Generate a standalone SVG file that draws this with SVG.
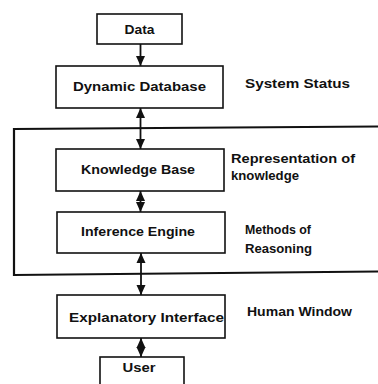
<svg xmlns="http://www.w3.org/2000/svg" width="378" height="384" viewBox="0 0 378 384">
<style>
.box{fill:#fff;stroke:#111;stroke-width:1.6}
.t{font-family:"Liberation Sans",Arial,sans-serif;font-size:12px;font-weight:bold;fill:#111}
.c{text-anchor:middle}
.conn{stroke:#111;stroke-width:1.8;fill:none}
.frame{stroke:#111;stroke-width:2.2;fill:none}
</style>
<defs>
<marker id="ah" markerUnits="userSpaceOnUse" markerWidth="10" markerHeight="10" refX="10" refY="5" orient="auto-start-reverse" viewBox="0 0 10 10">
<path d="M0,0.5 L10,5 L0,9.5 z" fill="#111"/>
</marker>
</defs>
<path class="frame" d="M378,126.5 L14,129 L14,275 L378,271.5"/>
<g id="connectors">
<line class="conn" x1="140.5" y1="44" x2="140.5" y2="66" marker-end="url(#ah)"/>
<line class="conn" x1="140.5" y1="108" x2="140.5" y2="149" marker-start="url(#ah)" marker-end="url(#ah)"/>
<line class="conn" x1="140.5" y1="191" x2="140.5" y2="212" marker-start="url(#ah)" marker-end="url(#ah)"/>
<line class="conn" x1="141" y1="253" x2="141" y2="295" marker-start="url(#ah)" marker-end="url(#ah)"/>
<line class="conn" x1="141" y1="338" x2="141" y2="357" marker-start="url(#ah)" marker-end="url(#ah)"/>
</g>
<g id="data">
<rect class="box" x="97" y="14" width="85" height="30"/>
<text class="t c" x="139.5" y="34" textLength="30" lengthAdjust="spacingAndGlyphs">Data</text>
</g>
<g id="dynamic-database">
<rect class="box" x="56" y="66" width="167" height="42"/>
<text class="t c" x="139.5" y="91" textLength="133" lengthAdjust="spacingAndGlyphs">Dynamic Database</text>
</g>
<g id="knowledge-base">
<rect class="box" x="56" y="149" width="168" height="42"/>
<text class="t c" x="138" y="174" textLength="114" lengthAdjust="spacingAndGlyphs">Knowledge Base</text>
</g>
<g id="inference-engine">
<rect class="box" x="57" y="212" width="168" height="41"/>
<text class="t c" x="138" y="236" textLength="114" lengthAdjust="spacingAndGlyphs">Inference Engine</text>
</g>
<g id="explanatory-interface">
<rect class="box" x="57" y="295" width="168" height="43"/>
<text class="t" x="69" y="322" textLength="155" lengthAdjust="spacingAndGlyphs">Explanatory  Interface</text>
</g>
<g id="user">
<rect class="box" x="100" y="357" width="84" height="40"/>
<text class="t c" x="139" y="372" textLength="33" lengthAdjust="spacingAndGlyphs">User</text>
</g>
<g id="labels">
<text class="t" x="245" y="88" textLength="105" lengthAdjust="spacingAndGlyphs">System  Status</text>
<text class="t" x="231" y="163" textLength="124" lengthAdjust="spacingAndGlyphs">Representation of</text>
<text class="t" x="231" y="180" textLength="68" lengthAdjust="spacingAndGlyphs">knowledge</text>
<text class="t" x="245" y="234" textLength="66" lengthAdjust="spacingAndGlyphs">Methods of</text>
<text class="t" x="245" y="253" textLength="67" lengthAdjust="spacingAndGlyphs">Reasoning</text>
<text class="t" x="247" y="316" textLength="105" lengthAdjust="spacingAndGlyphs">Human Window</text>
</g>
</svg>
